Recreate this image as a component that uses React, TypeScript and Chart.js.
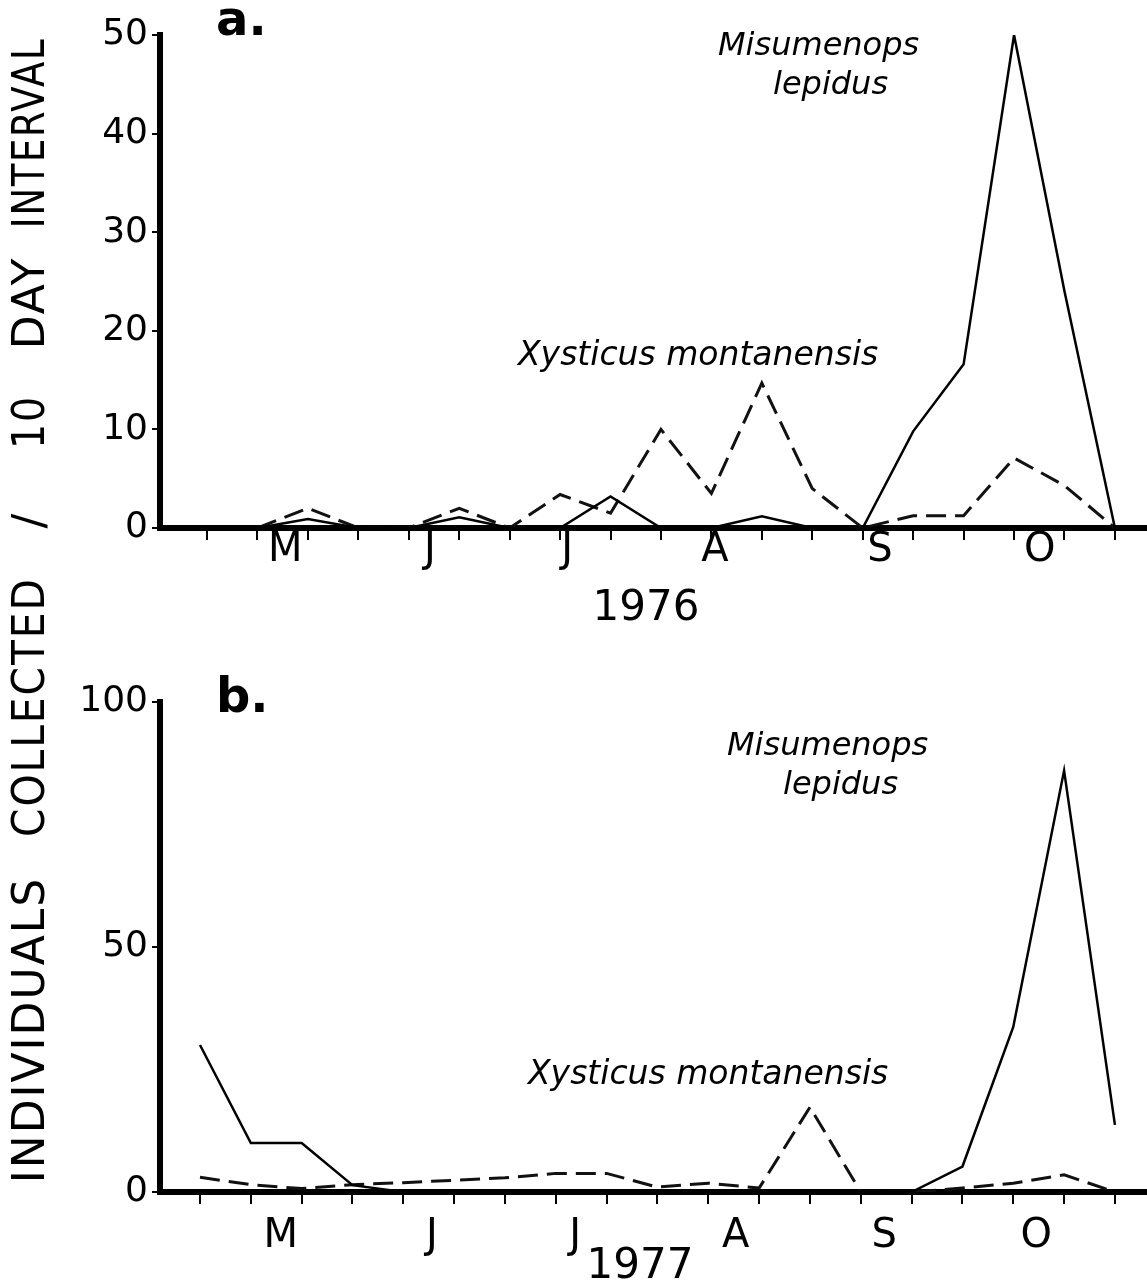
import React, { useEffect, useRef } from 'react';
import { Chart, registerables } from 'chart.js';

Chart.register(...registerables);

// ---- data ----
const tickIndex = [0, 1, 2, 3, 4, 5, 6, 7, 8, 9, 10, 11, 12, 13, 14, 15, 16, 17, 18];
const monthLabels = ['M', 'J', 'J', 'A', 'S', 'O'];
const monthPos1976 = [1.55, 4.42, 7.14, 10.07, 13.34, 16.51];
const monthPos1977 = [1.59, 4.56, 7.38, 10.54, 13.46, 16.45];
const yTicks1976 = [0, 10, 20, 30, 40, 50];
const yTicks1977 = [0, 50, 100];

const misumenops1976 = [null, 0, 0.9, 0, 0, 1.1, 0, 0, 3.2, 0, 0, 1.2, 0, 0, 9.8, 16.6, 50, 24, 0];
const xysticus1976 = [null, 0, 2, 0, 0, 2, 0, 3.4, 1.5, 10, 3.5, 14.7, 4, 0, 1.25, 1.25, 7.1, 4.3, 0];

const misumenops1977 = [30, 10, 10, 1.4, 0, 0, 0, 0, 0, 0, 0, 0, 0, 0, 0, 5.2, 33.7, 86, 13.7];
const xysticus1977 = [3, 1.5, 0.7, 1.5, 1.9, 2.4, 2.9, 3.8, 3.8, 1, 1.8, 0.8, 17.3, 0, 0, 0.8, 1.8, 3.5, 0];

const titleWords = ['INDIVIDUALS', 'COLLECTED', '/', '10', 'DAY', 'INTERVAL'];

const FAMILY = '"DejaVu Sans", sans-serif';

type Txt = { text: string; x: number; y: number; font: string; align?: CanvasTextAlign };

type PanelProps = {
  top: number;
  height: number;
  padTop: number;
  xAxisHeight: number;
  xmin: number;
  xmax: number;
  ymax: number;
  yTicks: number[];
  solid: (number | null)[];
  dashed: (number | null)[];
  monthPos: number[];
  monthY: number;
  texts: Txt[];
};

function Panel(props: PanelProps) {
  const ref = useRef<HTMLCanvasElement>(null);
  useEffect(() => {
    const canvas = ref.current;
    if (!canvas) return;
    const p = props;
    const toPts = (arr: (number | null)[]) => tickIndex.map((x, i) => ({ x, y: arr[i] }));
    const textPlugin = {
      id: 'panelText',
      afterDraw(chart: any) {
        const ctx = chart.ctx as CanvasRenderingContext2D;
        const xs = chart.scales.x;
        ctx.save();
        ctx.fillStyle = '#000';
        ctx.textAlign = 'center';
        ctx.textBaseline = 'middle';
        ctx.font = `40px ${FAMILY}`;
        monthLabels.forEach((m, i) => {
          ctx.fillText(m, xs.getPixelForValue(p.monthPos[i]), p.monthY);
        });
        ctx.textBaseline = 'alphabetic';
        p.texts.forEach((t) => {
          ctx.font = t.font;
          ctx.textAlign = t.align || 'left';
          ctx.fillText(t.text, t.x, t.y);
        });
        ctx.restore();
      },
    };
    const chart = new Chart(canvas, {
      type: 'line',
      data: {
        datasets: [
          {
            label: 'Misumenops lepidus',
            data: toPts(p.solid) as any,
            borderColor: '#000',
            borderWidth: 2.5,
            pointRadius: 0,
            tension: 0,
            fill: false,
          },
          {
            label: 'Xysticus montanensis',
            data: toPts(p.dashed) as any,
            borderColor: '#111',
            borderWidth: 3,
            borderDash: [20, 9],
            pointRadius: 0,
            tension: 0,
            fill: false,
          },
        ],
      },
      options: {
        responsive: false,
        animation: false,
        devicePixelRatio: 1,
        layout: { padding: { top: p.padTop, left: 0, right: 0, bottom: 0 } },
        plugins: { legend: { display: false }, tooltip: { enabled: false } },
        scales: {
          x: {
            type: 'linear',
            min: p.xmin,
            max: p.xmax,
            afterBuildTicks: (s: any) => {
              s.ticks = tickIndex.map((v) => ({ value: v }));
            },
            afterFit: (s: any) => {
              s.height = p.xAxisHeight;
            },
            ticks: { display: false },
            grid: { drawOnChartArea: false, drawTicks: true, tickLength: 12, color: '#000', lineWidth: 2 },
            border: { display: true, color: '#000', width: 6 },
          },
          y: {
            type: 'linear',
            min: 0,
            max: p.ymax,
            afterBuildTicks: (s: any) => {
              s.ticks = p.yTicks.map((v) => ({ value: v }));
            },
            afterFit: (s: any) => {
              s.width = 160;
            },
            ticks: { color: '#000', font: { family: 'DejaVu Sans', size: 36 }, padding: 4 },
            grid: { drawOnChartArea: false, drawTicks: true, tickLength: 8, color: '#000', lineWidth: 2 },
            border: { display: true, color: '#000', width: 6 },
          },
        },
      } as any,
      plugins: [textPlugin as any],
    });
    return () => chart.destroy();
  }, []);
  return (
    <canvas
      ref={ref}
      width={1147}
      height={props.height}
      style={{ position: 'absolute', left: 0, top: props.top, display: 'block', width: 1147, height: props.height }}
    />
  );
}

export default function App() {
  const italic = `italic 32px ${FAMILY}`;
  const italicWide = `italic 33px ${FAMILY}`;
  const titleCenters = [1030, 707, 520, 422, 303, 133];
  const titleScales = [1.0, 0.93, 1.0, 0.9, 1.0, 0.84];
  const topTexts: Txt[] = [
    { text: 'a.', x: 216, y: 35, font: `bold 48px ${FAMILY}` },
    { text: 'Misumenops', x: 718, y: 55, font: italic },
    { text: 'lepidus', x: 773, y: 94, font: italic },
    { text: 'Xysticus montanensis', x: 518, y: 365, font: italicWide },
    { text: '1976', x: 646, y: 620, font: `42px ${FAMILY}`, align: 'center' },
  ];
  const bottomTexts: Txt[] = [
    { text: 'b.', x: 216, y: 62, font: `bold 48px ${FAMILY}` },
    { text: 'Misumenops', x: 727, y: 105, font: italic },
    { text: 'lepidus', x: 783, y: 144, font: italic },
    { text: 'Xysticus montanensis', x: 528, y: 434, font: italicWide },
    { text: '1977', x: 640, y: 628, font: `42px ${FAMILY}`, align: 'center' },
  ];
  return (
    <div
      style={{
        position: 'absolute',
        left: 0,
        top: 0,
        width: 1147,
        height: 1287,
        overflow: 'hidden',
        background: '#fff',
      }}
    >
      <Panel
        top={0}
        height={650}
        padTop={35}
        xAxisHeight={122}
        xmin={-0.932}
        xmax={18.636}
        ymax={50}
        yTicks={yTicks1976}
        solid={misumenops1976}
        dashed={xysticus1976}
        monthPos={monthPos1976}
        monthY={551}
        texts={topTexts}
      />
      <Panel
        top={650}
        height={637}
        padTop={52}
        xAxisHeight={95}
        xmin={-0.787}
        xmax={18.631}
        ymax={100}
        yTicks={yTicks1977}
        solid={misumenops1977}
        dashed={xysticus1977}
        monthPos={monthPos1977}
        monthY={587}
        texts={bottomTexts}
      />
      {titleWords.map((w, i) => (
        <span
          key={i}
          style={{
            position: 'absolute',
            left: 29,
            top: titleCenters[i],
            transform: `translate(-50%, -50%) rotate(-90deg) scaleX(${titleScales[i]})`,
            fontFamily: FAMILY,
            fontSize: 44,
            lineHeight: 1,
            letterSpacing: 2,
            whiteSpace: 'nowrap',
            color: '#000',
          }}
        >
          {w}
        </span>
      ))}
    </div>
  );
}
